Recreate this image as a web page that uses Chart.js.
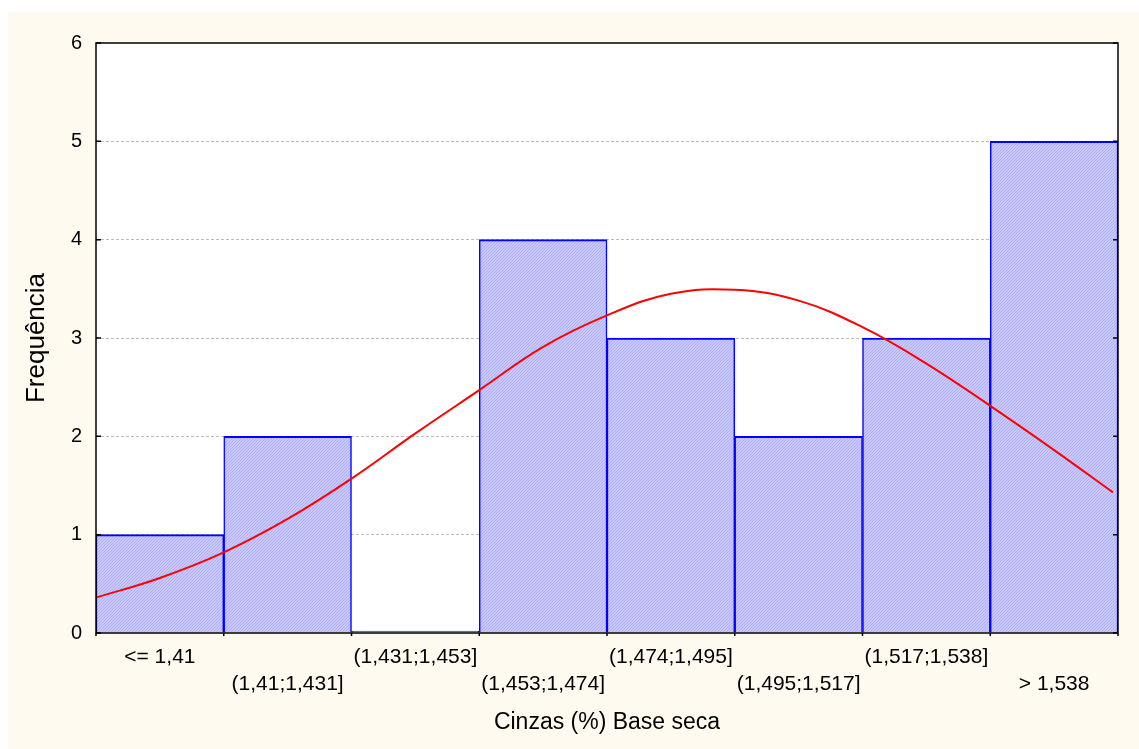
<!DOCTYPE html>
<html lang="pt">
<head>
<meta charset="utf-8">
<title>Cinzas (%) Base seca</title>
<script src="https://cdn.jsdelivr.net/npm/chart.js@4/dist/chart.umd.min.js"></script>
<style>
  html, body { margin: 0; padding: 0; background: #ffffff; }
  #wrap {
    position: absolute;
    left: 8px; top: 12px;
    width: 1131px; height: 737px;
    background: #fffaf0;
  }
</style>
</head>
<body>
<div id="wrap"><canvas id="hist"></canvas></div>
<script>
// Class intervals of ash content (% dry basis) and observed counts
const binLabels = ['<= 1,41', '(1,41;1,431]', '(1,431;1,453]', '(1,453;1,474]',
                   '(1,474;1,495]', '(1,495;1,517]', '(1,517;1,538]', '> 1,538'];
const frequencies = [1, 2, 0, 4, 3, 2, 3, 5];

// Expected-normal curve, position in class units (0 = left edge, 8 = right edge)
const curvePos  = [0, 0.5, 1, 1.5, 2, 2.5, 3, 3.5, 4, 4.5, 5, 5.5, 6, 6.5, 7, 7.5, 7.96];
const curveFreq = [0.36, 0.56, 0.82, 1.16, 1.57, 2.03, 2.47, 2.91, 3.23, 3.45, 3.49, 3.38, 3.11, 2.74, 2.31, 1.86, 1.43];

// Frequency axis
const yMin = 0, yMax = 6, yStep = 1;

const FONT = "'Liberation Sans', Arial, sans-serif";

// fine diagonal hatch used for the bar fill
function makeHatch() {
  const c = document.createElement('canvas');
  c.width = 3; c.height = 3;
  const g = c.getContext('2d');
  g.fillStyle = '#c9c9ff';
  g.fillRect(0, 0, 3, 3);
  g.fillStyle = '#aeaef2';
  for (let i = 0; i < 3; i++) g.fillRect((3 - 1 - i) % 3, i, 1, 1);
  return g.createPattern(c, 'repeat');
}

// white plotting area behind grid and bars
const plotBgPlugin = {
  id: 'plotBg',
  beforeDraw(chart) {
    const { ctx, chartArea: a } = chart;
    ctx.save();
    ctx.fillStyle = '#ffffff';
    ctx.fillRect(a.left, a.top, a.right - a.left, a.bottom - a.top);
    ctx.restore();
  }
};

// frame around the plot with inward tick marks
const framePlugin = {
  id: 'frame',
  afterDatasetsDraw(chart) {
    const { ctx, chartArea: a, scales } = chart;
    ctx.save();
    ctx.strokeStyle = '#000';
    ctx.lineWidth = 1.5;
    ctx.strokeRect(a.left, a.top, a.right - a.left, a.bottom - a.top);
    ctx.beginPath();
    for (let v = yMin; v <= yMax; v += yStep) {
      const y = scales.y.getPixelForValue(v);
      ctx.moveTo(a.left, y); ctx.lineTo(a.left + 5, y);
      ctx.moveTo(a.right, y); ctx.lineTo(a.right - 5, y);
    }
    for (let i = 0; i <= binLabels.length; i++) {
      const x = scales.x2.getPixelForValue(i);
      ctx.moveTo(x, a.bottom); ctx.lineTo(x, a.bottom + 3);
    }
    ctx.stroke();
    ctx.restore();
  }
};

const ctx = document.getElementById('hist').getContext('2d');
new Chart(ctx, {
  type: 'bar',
  data: {
    labels: binLabels,
    datasets: [
      {
        type: 'line',
        data: curvePos.map((p, i) => ({ x: p, y: curveFreq[i] })),
        xAxisID: 'x2',
        yAxisID: 'y',
        borderColor: '#ff0000',
        borderWidth: 2,
        pointRadius: 0,
        fill: false,
        tension: 0.4,
        order: 0
      },
      {
        type: 'bar',
        data: frequencies,
        xAxisID: 'x',
        yAxisID: 'y',
        backgroundColor: makeHatch(),
        borderColor: '#0000ff',
        borderWidth: { top: 2, left: 1.5, right: 1.5, bottom: 0 },
        borderSkipped: 'start',
        grouped: false,
        barPercentage: 1,
        categoryPercentage: 1,
        minBarLength: 2,
        order: 1
      }
    ]
  },
  options: {
    responsive: true,
    maintainAspectRatio: false,
    animation: false,
    devicePixelRatio: 1,
    layout: { padding: { left: 0, top: 31, right: 21, bottom: 0 } },
    plugins: { legend: { display: false }, tooltip: { enabled: false } },
    scales: {
      x: {
        type: 'category',
        position: 'bottom',
        offset: true,
        grid: { display: false, drawTicks: false },
        border: { display: false },
        ticks: {
          autoSkip: false, maxRotation: 0, minRotation: 0,
          padding: 10.5,
          color: '#000',
          font: { family: FONT, size: 21, lineHeight: 1.3 },
          callback: function (v, i) {
            const t = binLabels[i];
            return i % 2 === 0 ? t : ['', t];
          }
        },
        title: {
          display: true, text: 'Cinzas (%) Base seca', color: '#000',
          font: { family: FONT, size: 23, lineHeight: 1 },
          padding: { top: 0, bottom: 15 }
        },
        afterFit(s) { s.height = 116; }
      },
      x2: {
        type: 'linear',
        position: 'bottom',
        min: 0, max: 8,
        offset: false,
        grid: { offset: false },
        display: false
      },
      y: {
        type: 'linear',
        min: yMin, max: yMax,
        grid: {
          drawTicks: false,
          color: c => (c.tick && (c.tick.value === yMin || c.tick.value === yMax)) ? 'rgba(0,0,0,0)' : '#bdbdbd',
          lineWidth: 1
        },
        border: { display: false, dash: [3, 2] },
        ticks: {
          stepSize: yStep,
          padding: 14,
          color: '#000',
          font: { family: FONT, size: 20 }
        },
        title: {
          display: true, text: 'Frequência', color: '#000',
          font: { family: FONT, size: 26, lineHeight: 1 },
          padding: { top: 16, bottom: 0 }
        },
        afterFit(s) { s.width = 88; }
      }
    }
  },
  plugins: [plotBgPlugin, framePlugin]
});
</script>
</body>
</html>
